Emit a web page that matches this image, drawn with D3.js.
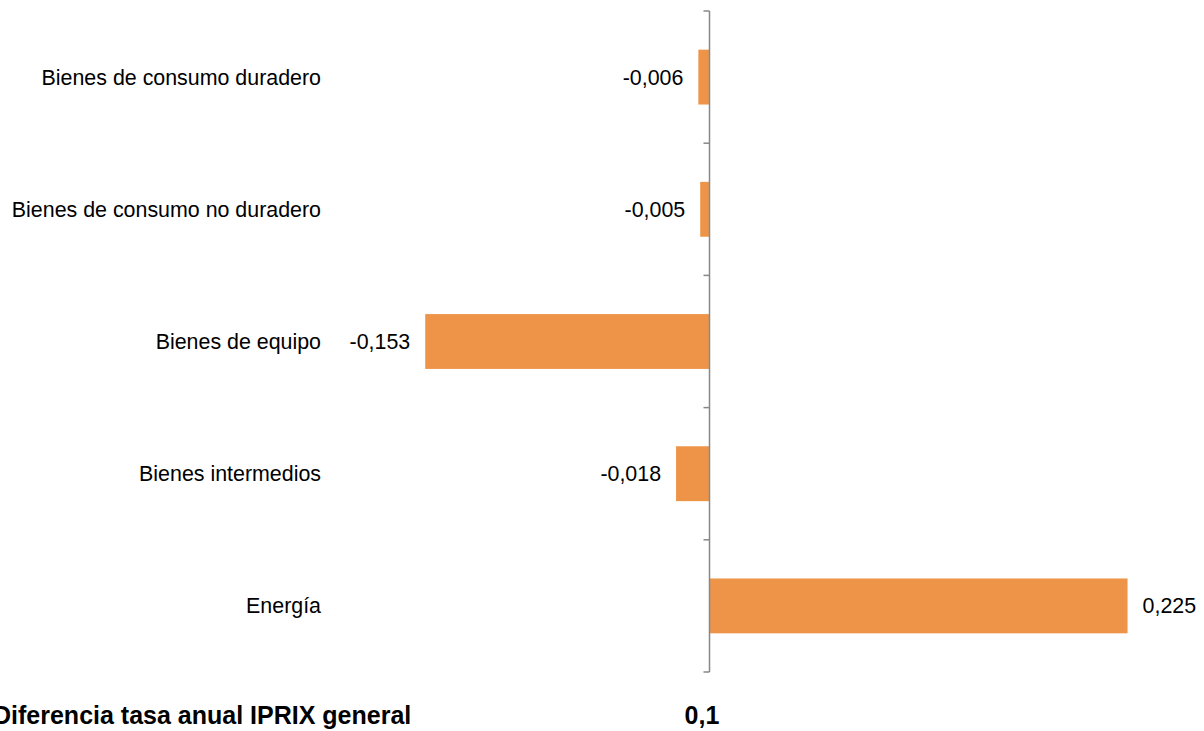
<!DOCTYPE html>
<html>
<head>
<meta charset="utf-8">
<script src="https://cdn.jsdelivr.net/npm/d3@7"></script>
<style>
  html, body { margin: 0; padding: 0; background: #fff; }
  svg { display: block; font-family: "Liberation Sans", Arial, sans-serif; }
  .cat { font-size: 21.4px; fill: #000; }
  .val { font-size: 21.4px; fill: #000; }
  .foot { font-size: 25px; font-weight: bold; fill: #000; }
</style>
</head>
<body>
<svg id="chart" width="1204" height="731"></svg>
<script>
// contribution of each sector to the IPRIX annual rate difference
const categories = ['Bienes de consumo duradero', 'Bienes de consumo no duradero', 'Bienes de equipo', 'Bienes intermedios', 'Energía'];
const values = [-0.006, -0.005, -0.153, -0.018, 0.225];
const footLabel = 'Diferencia tasa anual IPRIX general';
const footValue = 0.1;

// spanish decimals, plain hyphen for negatives
const fmt = v => d3.format('.3f')(v).replace('.', ',').replace('\u2212', '-');

const svg = d3.select('#chart');
const x = d3.scaleLinear().domain([-0.25, 0.25]).range([245, 1174]);
const y = d3.scaleBand().domain(categories).range([11, 672]).paddingInner(0.585).paddingOuter(0.2925);
const x0 = x(0);

// bars
svg.append('g').selectAll('rect').data(values).join('rect')
  .attr('x', d => Math.min(x(d), x0)).attr('width', d => Math.abs(x(d) - x0))
  .attr('y', (d, i) => y(categories[i])).attr('height', y.bandwidth())
  .attr('fill', '#ee9448');

// vertical category axis at zero, ticks between bands
const g = svg.append('g').attr('stroke', '#878787').attr('stroke-width', 1.5);
g.append('line').attr('x1', x0).attr('x2', x0).attr('y1', y.range()[0]).attr('y2', y.range()[1]);
const tickY = d3.range(categories.length + 1).map(i => y.range()[0] + i * y.step());
g.selectAll('.tk').data(tickY).join('line').attr('class', 'tk')
  .attr('x1', x0 - 6).attr('x2', x0).attr('y1', d => d).attr('y2', d => d);

// category labels
svg.append('g').selectAll('text').data(categories).join('text')
  .attr('class', 'cat').attr('x', 321).attr('y', d => y(d) + y.bandwidth() / 2)
  .attr('dy', '0.35em').attr('text-anchor', 'end').text(d => d);

// value labels
svg.append('g').selectAll('text').data(values).join('text')
  .attr('class', 'val')
  .attr('x', d => d < 0 ? x(d) - 15 : x(d) + 15)
  .attr('text-anchor', d => d < 0 ? 'end' : 'start')
  .attr('y', (d, i) => y(categories[i]) + y.bandwidth() / 2)
  .attr('dy', '0.35em').text(d => fmt(d));

// footer
svg.append('text').attr('class', 'foot').attr('x', -7).attr('y', 724).text(footLabel);
svg.append('text').attr('class', 'foot').attr('x', 702).attr('y', 724)
  .attr('text-anchor', 'middle').text(String(footValue).replace('.', ','));
</script>
</body>
</html>
